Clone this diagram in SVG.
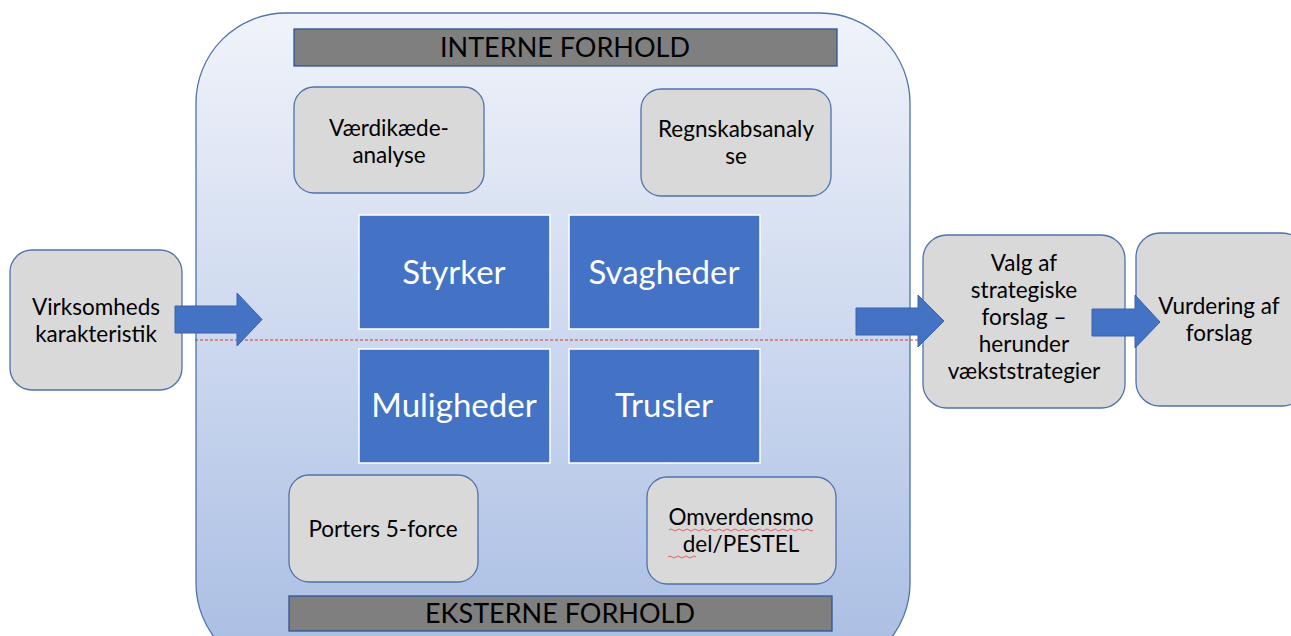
<svg xmlns="http://www.w3.org/2000/svg" width="1291" height="636" viewBox="0 0 1291 636">
<defs>
<linearGradient id="bg" x1="0" y1="0" x2="0" y2="1">
<stop offset="0" stop-color="#f0f3fa"/>
<stop offset="1" stop-color="#a8bde3"/>
</linearGradient>
<style>
.gray{fill:#d9d9d9;stroke:#4f72ad;stroke-width:1.3}
.bar{fill:#7f7f7f;stroke:#2f5597;stroke-width:1.3}
.sq{fill:#4472c4;stroke:#ffffff;stroke-width:1.5}
.arr{fill:#4472c4;stroke:#3a63a8;stroke-width:1}
.sp{fill:none;stroke:#e04040;stroke-width:0.8}
.t{font-family:Lato,"Open Sans","Liberation Sans",sans-serif;font-size:22.5px;fill:#000;text-anchor:middle}
.tb{font-family:Lato,"Open Sans","Liberation Sans",sans-serif;font-size:27px;fill:#000;text-anchor:middle}
.tw{font-family:Lato,"Open Sans","Liberation Sans",sans-serif;font-size:33px;fill:#fff;text-anchor:middle}
</style>
</defs>
<rect width="1291" height="636" fill="#ffffff"/>
<g id="container">
<rect x="196" y="13" width="714" height="660" rx="90" ry="90" fill="url(#bg)" stroke="#4f72ad" stroke-width="1.3"/>
</g>
<g id="interne">
<rect class="bar" x="294" y="29" width="543" height="37"/>
<text class="tb" x="565" y="57">INTERNE FORHOLD</text>
</g>
<g id="eksterne">
<rect class="bar" x="289" y="596" width="543" height="35"/>
<text class="tb" x="560" y="623">EKSTERNE FORHOLD</text>
</g>
<g id="vaerdikaede">
<rect class="gray" x="294" y="87" width="190" height="106" rx="20"/>
<text class="t" x="389" y="136">Værdikæde-</text>
<text class="t" x="389" y="163">analyse</text>
</g>
<g id="regnskab">
<rect class="gray" x="641" y="89" width="190" height="107" rx="20"/>
<text class="t" x="736" y="137">Regnskabsanaly</text>
<text class="t" x="736" y="164">se</text>
</g>
<g id="porters">
<rect class="gray" x="289" y="475" width="189" height="107" rx="20"/>
<text class="t" x="383" y="537">Porters 5-force</text>
</g>
<g id="omverden">
<rect class="gray" x="647" y="477" width="189" height="107" rx="20"/>
<text class="t" x="741" y="525">Omverdensmo</text>
<text class="t" x="741" y="552">del/PESTEL</text>
<path class="sp" d="M669 530 q2 -2 4 0 t4 0 t4 0 t4 0 t4 0 t4 0 t4 0 t4 0 t4 0 t4 0 t4 0 t4 0 t4 0 t4 0 t4 0 t4 0 t4 0 t4 0 t4 0 t4 0 t4 0 t4 0 t4 0 t4 0 t4 0 t4 0 t4 0 t4 0 t4 0 t4 0 t4 0 t4 0 t4 0 t4 0 t4 0 t4 0"/>
<path class="sp" d="M668 557 q2 -2 4 0 t4 0 t4 0 t4 0 t4 0 t4 0 t4 0"/>
</g>
<g id="styrker">
<rect class="sq" x="359" y="215" width="191" height="114"/>
<text class="tw" x="454" y="284">Styrker</text>
</g>
<g id="svagheder">
<rect class="sq" x="569" y="215" width="191" height="114"/>
<text class="tw" x="664" y="284">Svagheder</text>
</g>
<g id="muligheder">
<rect class="sq" x="359" y="349" width="191" height="114"/>
<text class="tw" x="454" y="417">Muligheder</text>
</g>
<g id="trusler">
<rect class="sq" x="569" y="349" width="191" height="114"/>
<text class="tw" x="664" y="417">Trusler</text>
</g>
<g id="virksomhed">
<rect class="gray" x="10" y="250" width="172" height="140" rx="22"/>
<text class="t" x="96" y="315">Virksomheds</text>
<text class="t" x="96" y="342">karakteristik</text>
</g>
<g id="valg">
<rect class="gray" x="923" y="235" width="202" height="173" rx="24"/>
<text class="t" x="1024" y="271">Valg af</text>
<text class="t" x="1024" y="298">strategiske</text>
<text class="t" x="1024" y="325">forslag –</text>
<text class="t" x="1024" y="352">herunder</text>
<text class="t" x="1024" y="379">vækststrategier</text>
</g>
<g id="vurdering">
<rect class="gray" x="1136" y="233" width="170" height="173" rx="24"/>
<text class="t" x="1219" y="314">Vurdering af</text>
<text class="t" x="1219" y="341">forslag</text>
</g>
<g id="connectors">
<line x1="195" y1="340" x2="921" y2="340" stroke="#e03030" stroke-width="1" stroke-dasharray="3,2"/>
<path class="arr" d="M175 306 H237 V293 L262 319.5 L237 346 V333 H175 Z"/>
<path class="arr" d="M856 308 H918 V295 L944 321 L918 347 V335 H856 Z"/>
<path class="arr" d="M1092 309 H1135 V295 L1160 322 L1135 348 V336 H1092 Z"/>
</g>
</svg>
